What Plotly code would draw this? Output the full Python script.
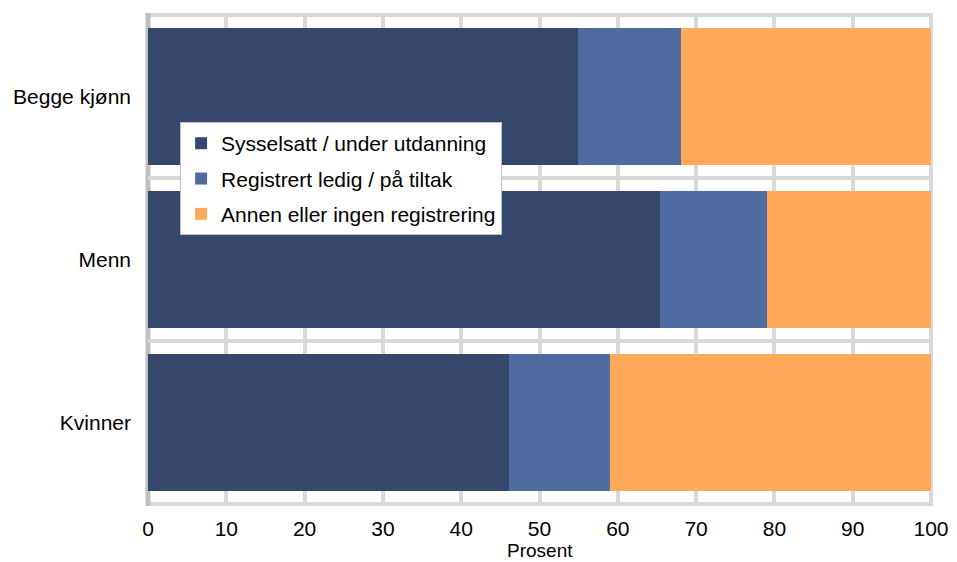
import plotly.graph_objects as go

categories = ["Begge kjønn", "Menn", "Kvinner"]
series_names = ["Sysselsatt / under utdanning", "Registrert ledig / på tiltak", "Annen eller ingen registrering"]
sysselsatt = [54.9, 65.4, 46.1]
registrert = [13.2, 13.6, 12.9]
annen = [31.9, 21.0, 41.0]
colors = ["#35486B", "#4E6CA0", "#FFAA5A"]
x_ticks = list(range(0, 101, 10))
x_title = "Prosent"

ypos = list(range(len(categories)))
FONT = "Liberation Sans, Arial, sans-serif"

fig = go.Figure()
for i, (name, vals, col) in enumerate(zip(series_names, [sysselsatt, registrert, annen], colors)):
    fig.add_trace(go.Bar(
        y=ypos, x=vals, orientation="h", name=name, legendgroup=f"g{i}",
        marker=dict(color=col, line=dict(width=0)),
        hoverinfo="x+name",
    ))

# frame around the plot area
fig.add_shape(type="rect", xref="paper", yref="paper", x0=0, x1=1, y0=0, y1=1,
              line=dict(color="#D9D9D9", width=4), layer="below")
fig.add_shape(type="line", xref="paper", yref="paper", x0=0, x1=0, y0=-0.004, y1=1.004,
              line=dict(color="#BFBFBF", width=5), layer="below")

# axis title placed at the bottom edge of the figure
fig.add_annotation(text=x_title, xref="paper", yref="paper", x=0.5, y=-57.5 / 489.0,
                   xanchor="center", yanchor="bottom", showarrow=False,
                   font=dict(size=19), borderpad=0)

fig.update_layout(
    width=949, height=554,
    margin=dict(l=140, r=26, t=7, b=58, pad=0),
    barmode="stack", bargap=0.164,
    plot_bgcolor="white", paper_bgcolor="white",
    font=dict(family=FONT, size=21, color="#000000"),
    showlegend=True,
    legend=dict(
        x=0.041, y=0.781, xanchor="left", yanchor="top",
        bgcolor="white", bordercolor="#BFBFBF", borderwidth=1,
        font=dict(size=21, family=FONT),
        tracegroupgap=5, traceorder="grouped",
    ),
    xaxis=dict(
        range=[0, 100], tickvals=x_ticks, ticktext=[str(v) for v in x_ticks],
        showgrid=True, gridcolor="#D9D9D9", gridwidth=4,
        zeroline=False, showline=False,
        ticks="outside", ticklen=6, tickcolor="rgba(0,0,0,0)", automargin=False,
        fixedrange=True,
    ),
    yaxis=dict(
        range=[len(categories) - 0.5, -0.5],
        tickvals=ypos, ticktext=categories,
        showgrid=False, zeroline=False,
        minor=dict(tick0=0.5, dtick=1, showgrid=True, gridcolor="#D9D9D9", gridwidth=4, ticks=""),
        showline=False, ticks="", ticklabelstandoff=16, automargin=False,
        fixedrange=True,
    ),
)

fig.write_html("out.html")
